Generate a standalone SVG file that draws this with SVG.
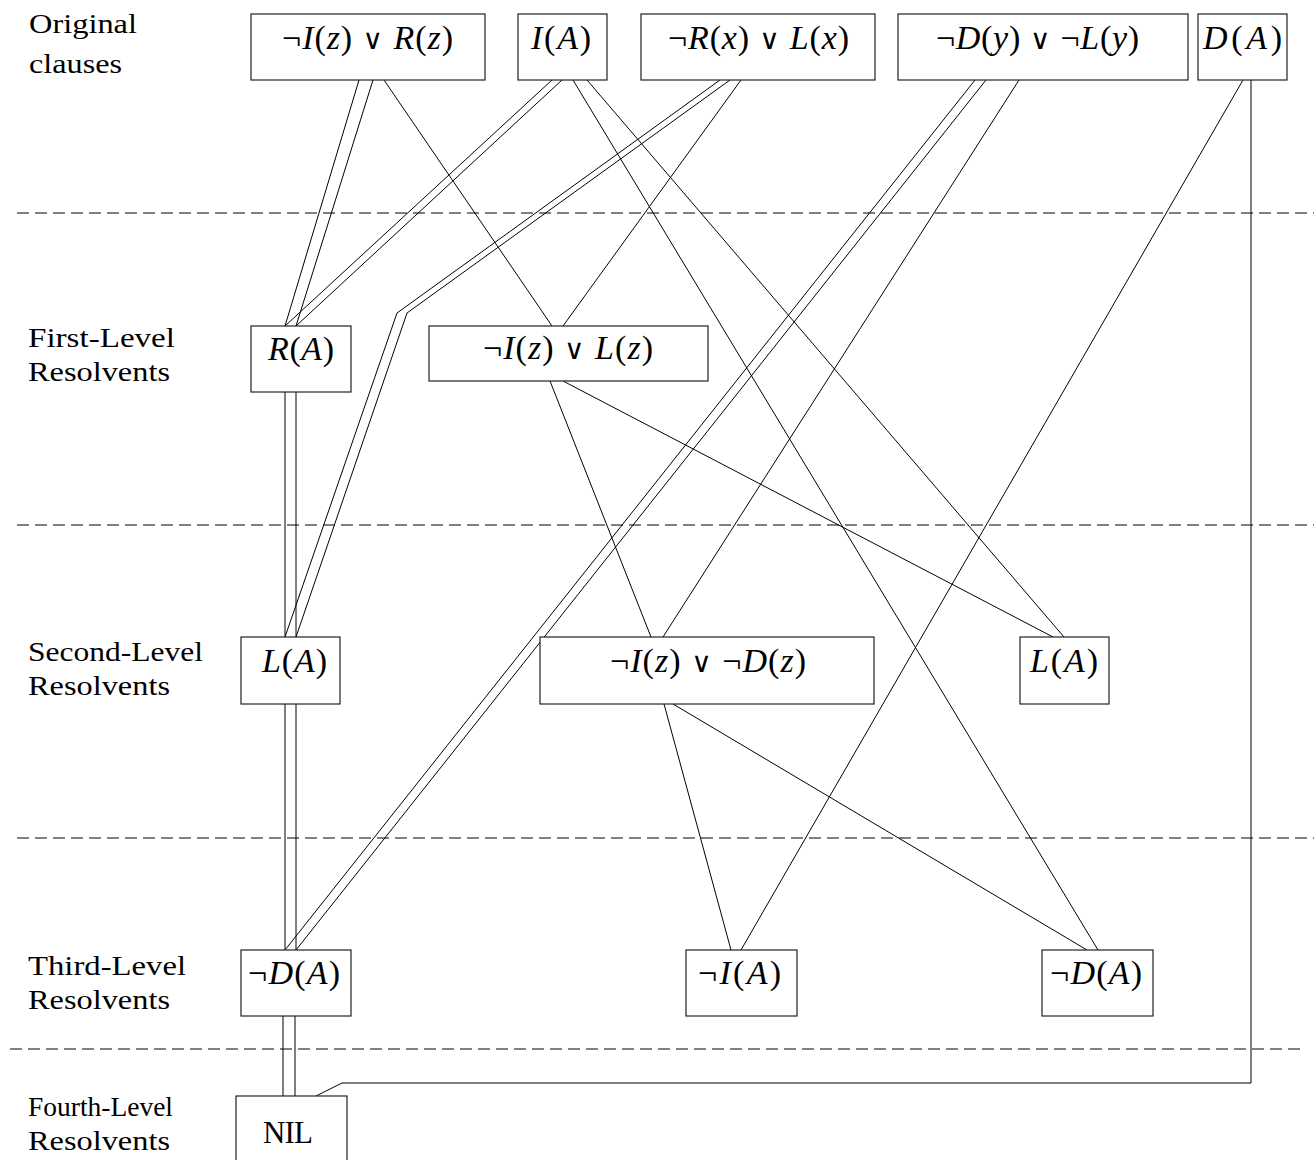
<svg xmlns="http://www.w3.org/2000/svg" width="1314" height="1160" viewBox="0 0 1314 1160">
<style>
.box{fill:#fff;stroke:#222;stroke-width:1.2}
.ln{fill:none;stroke:#000;stroke-width:1}
.dash{fill:none;stroke:#000;stroke-width:1;stroke-dasharray:12 6}
.lbl{font-family:'Liberation Serif','DejaVu Serif',serif;font-size:28px;fill:#000}
.m{font-family:'Liberation Serif','DejaVu Serif',serif;font-size:34px;fill:#000}
.i{font-style:italic}
.op{font-family:'DejaVu Serif',serif;font-size:28px}
</style>
<rect width="1314" height="1160" fill="#fff"/>
<g id="levels">
<line class="dash" x1="17" y1="213" x2="1314" y2="213"/>
<line class="dash" x1="17" y1="525" x2="1314" y2="525"/>
<line class="dash" x1="17" y1="838" x2="1314" y2="838"/>
<line class="dash" x1="10" y1="1049" x2="1306" y2="1049"/>
</g>
<g id="labels">
<text class="lbl" x="29" y="33" textLength="108" lengthAdjust="spacingAndGlyphs">Original</text>
<text class="lbl" x="29" y="73" textLength="93" lengthAdjust="spacingAndGlyphs">clauses</text>
<text class="lbl" x="28" y="347" textLength="147" lengthAdjust="spacingAndGlyphs">First-Level</text>
<text class="lbl" x="28" y="381" textLength="142" lengthAdjust="spacingAndGlyphs">Resolvents</text>
<text class="lbl" x="28" y="661" textLength="175" lengthAdjust="spacingAndGlyphs">Second-Level</text>
<text class="lbl" x="28" y="695" textLength="142" lengthAdjust="spacingAndGlyphs">Resolvents</text>
<text class="lbl" x="28" y="975" textLength="158" lengthAdjust="spacingAndGlyphs">Third-Level</text>
<text class="lbl" x="28" y="1009" textLength="142" lengthAdjust="spacingAndGlyphs">Resolvents</text>
<text class="lbl" x="28" y="1116" textLength="145" lengthAdjust="spacingAndGlyphs">Fourth-Level</text>
<text class="lbl" x="28" y="1150" textLength="142" lengthAdjust="spacingAndGlyphs">Resolvents</text>
</g>
<g id="connectors">
<!-- B1 -> R(A) double -->
<line class="ln" x1="359" y1="80" x2="285" y2="326"/>
<line class="ln" x1="373" y1="80" x2="296" y2="326"/>
<!-- I(A) -> R(A) double -->
<line class="ln" x1="552" y1="80" x2="285" y2="326"/>
<line class="ln" x1="562" y1="80" x2="296" y2="326"/>
<!-- B1 -> ILz -->
<line class="ln" x1="384" y1="80" x2="552" y2="326"/>
<!-- B3 -> ILz -->
<line class="ln" x1="741" y1="80" x2="563" y2="326"/>
<!-- B3 -> L(A) double -->
<polyline class="ln" points="720,80 397,313 285,637"/>
<polyline class="ln" points="730,80 407,313 296,637"/>
<!-- R(A) -> L(A) double -->
<line class="ln" x1="285" y1="392" x2="285" y2="637"/>
<line class="ln" x1="296" y1="392" x2="296" y2="637"/>
<!-- I(A) -> L(A) right -->
<line class="ln" x1="587" y1="80" x2="1064" y2="637"/>
<!-- I(A) -> notD(A) right -->
<line class="ln" x1="573" y1="80" x2="1098" y2="950"/>
<!-- ILz -> IDz -->
<line class="ln" x1="550" y1="381" x2="651" y2="637"/>
<!-- ILz -> L(A) right -->
<line class="ln" x1="563" y1="381" x2="1053" y2="637"/>
<!-- B4 -> IDz -->
<line class="ln" x1="1019" y1="80" x2="663" y2="637"/>
<!-- B4 -> notD(A) left double -->
<line class="ln" x1="975" y1="80" x2="285" y2="950"/>
<line class="ln" x1="986" y1="80" x2="296" y2="950"/>
<!-- L(A) -> notD(A) left double -->
<line class="ln" x1="285" y1="704" x2="285" y2="950"/>
<line class="ln" x1="296" y1="704" x2="296" y2="950"/>
<!-- D(A) -> notI(A) -->
<line class="ln" x1="1243" y1="80" x2="741" y2="950"/>
<!-- IDz -> notI(A) -->
<line class="ln" x1="664" y1="704" x2="731" y2="950"/>
<!-- IDz -> notD(A) right -->
<line class="ln" x1="673" y1="704" x2="1087" y2="950"/>
<!-- notD(A) left -> NIL double -->
<line class="ln" x1="283" y1="1016" x2="283" y2="1096"/>
<line class="ln" x1="295" y1="1016" x2="295" y2="1096"/>
<!-- D(A) -> NIL -->
<polyline class="ln" points="1251,80 1251,1083 342,1083 316,1096"/>
</g>
<g id="n-b1"><rect class="box" x="251" y="14" width="234" height="66"/>
<text class="m" x="282" y="49" textLength="171">¬<tspan class="i">I</tspan>(<tspan class="i">z</tspan>) <tspan class="op">∨</tspan> <tspan class="i">R</tspan>(<tspan class="i">z</tspan>)</text></g>
<g id="n-b2"><rect class="box" x="518" y="14" width="89" height="66"/>
<text class="m" x="531" y="49" textLength="60"><tspan class="i">I</tspan>(<tspan class="i">A</tspan>)</text></g>
<g id="n-b3"><rect class="box" x="641" y="14" width="234" height="66"/>
<text class="m" x="668" y="49" textLength="181">¬<tspan class="i">R</tspan>(<tspan class="i">x</tspan>) <tspan class="op">∨</tspan> <tspan class="i">L</tspan>(<tspan class="i">x</tspan>)</text></g>
<g id="n-b4"><rect class="box" x="898" y="14" width="290" height="66"/>
<text class="m" x="936" y="49" textLength="203">¬<tspan class="i">D</tspan>(<tspan class="i">y</tspan>) <tspan class="op">∨</tspan> ¬<tspan class="i">L</tspan>(<tspan class="i">y</tspan>)</text></g>
<g id="n-b5"><rect class="box" x="1198" y="14" width="89" height="66"/>
<text class="m" x="1203" y="49" textLength="79"><tspan class="i">D</tspan>(<tspan class="i">A</tspan>)</text></g>
<g id="n-ra"><rect class="box" x="251" y="326" width="100" height="66"/>
<text class="m" x="268" y="360" textLength="66"><tspan class="i">R</tspan>(<tspan class="i">A</tspan>)</text></g>
<g id="n-ilz"><rect class="box" x="429" y="326" width="279" height="55"/>
<text class="m" x="483" y="359" textLength="170">¬<tspan class="i">I</tspan>(<tspan class="i">z</tspan>) <tspan class="op">∨</tspan> <tspan class="i">L</tspan>(<tspan class="i">z</tspan>)</text></g>
<g id="n-la1"><rect class="box" x="241" y="637" width="99" height="67"/>
<text class="m" x="262" y="672" textLength="65"><tspan class="i">L</tspan>(<tspan class="i">A</tspan>)</text></g>
<g id="n-idz"><rect class="box" x="540" y="637" width="334" height="67"/>
<text class="m" x="610" y="672" textLength="196">¬<tspan class="i">I</tspan>(<tspan class="i">z</tspan>) <tspan class="op">∨</tspan> ¬<tspan class="i">D</tspan>(<tspan class="i">z</tspan>)</text></g>
<g id="n-la2"><rect class="box" x="1020" y="637" width="89" height="67"/>
<text class="m" x="1030" y="672" textLength="68"><tspan class="i">L</tspan>(<tspan class="i">A</tspan>)</text></g>
<g id="n-da1"><rect class="box" x="241" y="950" width="110" height="66"/>
<text class="m" x="248" y="984" textLength="92">¬<tspan class="i">D</tspan>(<tspan class="i">A</tspan>)</text></g>
<g id="n-ia"><rect class="box" x="686" y="950" width="111" height="66"/>
<text class="m" x="698" y="984" textLength="83">¬<tspan class="i">I</tspan>(<tspan class="i">A</tspan>)</text></g>
<g id="n-da2"><rect class="box" x="1042" y="950" width="111" height="66"/>
<text class="m" x="1050" y="984" textLength="92">¬<tspan class="i">D</tspan>(<tspan class="i">A</tspan>)</text></g>
<g id="n-nil"><rect class="box" x="236" y="1096" width="111" height="80"/>
<text class="m" x="263" y="1143" textLength="50" style="font-size:31px">NIL</text></g>
</svg>
